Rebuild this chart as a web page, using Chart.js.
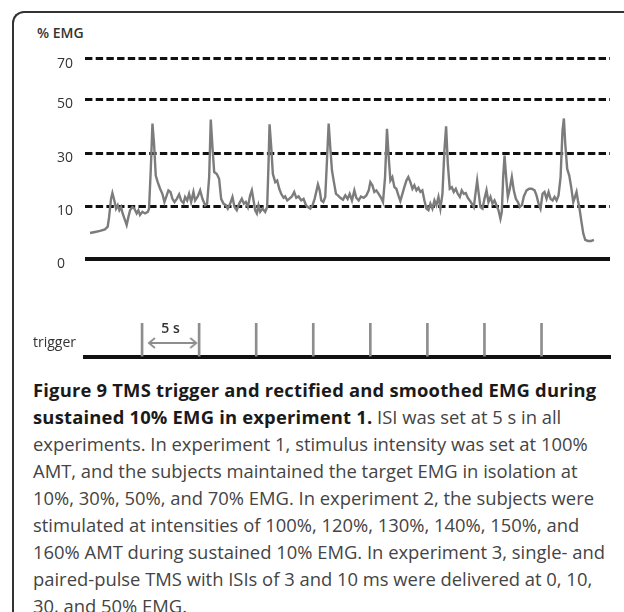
<!DOCTYPE html>
<html>
<head>
<meta charset="utf-8">
<script src="https://cdn.jsdelivr.net/npm/chart.js@4.4.1/dist/chart.umd.min.js"></script>
<style>
  body { margin: 0; background: #fff; width: 624px; height: 612px; overflow: hidden; position: relative; font-family: 'Open Sans', sans-serif; }
  .frame { position: absolute; left: 12px; top: 11px; width: 650px; height: 650px; border-top: 2px solid #333; border-left: 2px solid #333; border-top-left-radius: 12px; }
  #emgChart { position: absolute; left: 0; top: 0; }
  #trigChart { position: absolute; left: 0; top: 270px; }
  .ylabel { position: absolute; left: 37px; top: 23px; font: 600 14px 'Open Sans'; color: #333; }
  .caption { position: absolute; left: 33px; top: 376px; font-size: 18.4px; line-height: 27px; color: #444; white-space: nowrap; }
  .caption b { color: #1a1a1a; letter-spacing: 0.2px; }
</style>
</head>
<body>
<div class="frame"></div>
<div class="ylabel">% EMG</div>
<canvas id="emgChart" width="624" height="270"></canvas>
<canvas id="trigChart" width="624" height="95"></canvas>
<div class="caption">
  <b>Figure 9 TMS trigger and rectified and smoothed EMG during</b><br>
  <b>sustained 10% EMG in experiment 1.</b> ISI was set at 5 s in all<br>
  experiments. In experiment 1, stimulus intensity was set at 100%<br>
  AMT, and the subjects maintained the target EMG in isolation at<br>
  10%, 30%, 50%, and 70% EMG. In experiment 2, the subjects were<br>
  stimulated at intensities of 100%, 120%, 130%, 140%, 150%, and<br>
  160% AMT during sustained 10% EMG. In experiment 3, single- and<br>
  paired-pulse TMS with ISIs of 3 and 10 ms were delivered at 0, 10,<br>
  30, and 50% EMG.
</div>
<script>
// target EMG levels (dashed lines) and the 0 baseline
const levelTicks = [0, 10, 30, 50, 70];

// TMS trigger times (s), one every 5 s
const triggerTimes = [5, 10, 15, 20, 25, 30, 35, 40];
const intervalText = '5 s';
const triggerLabel = 'trigger';

// rectified and smoothed EMG: time (s) and %EMG
const emgTime = [
  0.44, 0.88, 1.32, 1.75, 1.99, 2.11, 2.28, 2.40, 2.57, 2.72, 2.87, 3.01, 3.16, 3.30, 3.51, 3.65, 3.80, 3.95,
  4.15, 4.33, 4.53, 4.68, 4.82, 5.03, 5.26, 5.50, 5.61, 5.76, 5.91, 6.05, 6.20, 6.37, 6.58, 6.78, 6.96, 7.16,
  7.31, 7.49, 7.66, 7.84, 8.04, 8.25, 8.42, 8.63, 8.77, 8.95, 9.12, 9.30, 9.50, 9.65, 9.88, 10.09, 10.29, 10.53,
  10.70, 10.88, 11.02, 11.17, 11.32, 11.55, 11.75, 11.93, 12.13, 12.34, 12.51, 12.72, 12.92, 13.10, 13.30, 13.51,
  13.74, 13.92, 14.09, 14.27, 14.47, 14.62, 14.77, 14.91, 15.06, 15.20, 15.35, 15.56, 15.79, 15.96, 16.08, 16.17,
  16.32, 16.46, 16.67, 16.84, 17.02, 17.19, 17.40, 17.54, 17.72, 17.89, 18.13, 18.33, 18.51, 18.71, 18.95, 19.15,
  19.36, 19.53, 19.74, 19.94, 20.12, 20.29, 20.41, 20.56, 20.70, 20.88, 21.05, 21.20, 21.35, 21.49, 21.64, 21.81,
  21.99, 22.16, 22.37, 22.60, 22.81, 23.01, 23.19, 23.39, 23.60, 23.77, 23.98, 24.18, 24.42, 24.65, 24.86, 25.00,
  25.18, 25.35, 25.53, 25.73, 25.94, 26.11, 26.29, 26.46, 26.61, 26.76, 26.93, 27.11, 27.28, 27.46, 27.63, 27.81,
  27.98, 28.16, 28.33, 28.51, 28.69, 28.86, 29.04, 29.21, 29.39, 29.56, 29.74, 29.91, 30.09, 30.26, 30.44, 30.62,
  30.79, 30.97, 31.14, 31.32, 31.49, 31.64, 31.79, 31.96, 32.14, 32.31, 32.49, 32.66, 32.84, 33.01, 33.19, 33.36,
  33.54, 33.71, 33.89, 34.07, 34.21, 34.36, 34.50, 34.65, 34.83, 35.00, 35.18, 35.35, 35.53, 35.70, 35.88, 36.05,
  36.23, 36.40, 36.52, 36.64, 36.76, 36.90, 37.05, 37.22, 37.40, 37.57, 37.75, 37.93, 38.10, 38.28, 38.45, 38.69,
  38.92, 39.15, 39.39, 39.56, 39.74, 39.91, 40.09, 40.26, 40.44, 40.62, 40.79, 40.97, 41.14, 41.32, 41.49, 41.67,
  41.84, 41.96, 42.08, 42.25, 42.43, 42.60, 42.78, 42.93, 43.07, 43.19, 43.31, 43.48, 43.66, 43.83, 44.07, 44.36,
  44.59
];
const emgValue = [
  4.9, 5.1, 5.3, 5.6, 6.1, 7.9, 12.7, 14.9, 12.1, 9.5, 10.3, 9.2, 9.8, 8.6, 7.3, 6.4, 7.9, 9.2,
  9.8, 9.5, 8.6, 9.2, 8.3, 8.9, 8.6, 8.9, 9.5, 23.4, 40.9, 33.4, 21.5, 19.0, 16.5, 14.6, 11.5, 14.0,
  15.9, 15.3, 12.7, 11.5, 12.7, 14.4, 12.1, 11.1, 13.4, 12.1, 14.6, 11.5, 15.3, 12.1, 13.6, 15.9, 12.7, 10.3,
  10.9, 20.9, 42.4, 32.1, 22.8, 22.1, 20.3, 12.7, 10.9, 10.3, 9.5, 10.9, 13.4, 9.8, 9.2, 10.9,
  12.7, 10.9, 11.5, 9.8, 14.0, 15.9, 12.1, 9.2, 8.6, 10.3, 8.9, 9.5, 8.9, 9.8, 25.9, 40.6,
  32.1, 22.1, 19.0, 19.6, 16.5, 14.6, 13.1, 13.6, 12.1, 12.7, 13.6, 15.3, 13.1, 13.6, 12.1, 12.7,
  10.3, 9.8, 9.5, 10.3, 12.7, 15.9, 18.1, 15.9, 12.1, 11.5, 13.4, 27.1, 40.9, 32.1, 23.4, 19.0,
  14.6, 14.0, 13.1, 12.4, 14.0, 12.7, 14.6, 12.1, 15.9, 13.1, 12.1, 13.6, 13.1, 14.0, 15.9, 19.0,
  17.8, 15.3, 15.9, 14.6, 13.1, 11.5, 20.9, 39.0, 28.4, 19.6, 20.9, 17.1, 16.5, 14.0, 11.9, 14.6,
  17.1, 19.6, 20.9, 19.0, 16.5, 17.8, 15.9, 16.9, 15.3, 15.9, 12.1, 9.5, 9.2, 10.9, 9.5, 12.1,
  10.3, 13.4, 9.5, 14.6, 30.9, 39.9, 25.9, 16.5, 17.1, 15.3, 16.5, 14.6, 13.4, 15.9, 14.6, 14.9,
  13.1, 12.1, 10.9, 9.8, 14.6, 19.6, 14.6, 9.8, 9.5, 12.7, 15.9, 11.5, 13.4, 10.9, 12.1, 10.3,
  9.2, 7.6, 8.9, 20.9, 29.0, 20.9, 13.4, 16.5, 20.9, 15.9, 12.7, 11.5, 9.8, 10.3, 13.6, 15.9,
  16.5, 16.5, 15.9, 14.0, 10.9, 9.5, 14.6, 15.3, 12.7, 15.3, 12.7, 12.1, 13.4, 12.1, 14.0, 20.9,
  38.4, 42.8, 33.4, 24.0, 21.5, 17.1, 11.5, 13.4, 15.3, 12.1, 9.8, 7.3, 4.8, 3.6, 3.4, 3.4,
  3.6
];

// the levels are not evenly spaced on the figure's axis: [value, relative height]
const levelBreaks = [[0, 0], [10, 53], [30, 106], [50, 160], [70, 200], [75, 208]];

class LevelScale extends Chart.LinearScale {
    levelToDecimal(v) {
        const top = levelBreaks[levelBreaks.length - 1][1];
        for (let i = 1; i < levelBreaks.length; i++) {
            if (v <= levelBreaks[i][0] || i === levelBreaks.length - 1) {
                const [v0, h0] = levelBreaks[i - 1];
                const [v1, h1] = levelBreaks[i];
                return (h0 + (v - v0) / (v1 - v0) * (h1 - h0)) / top;
            }
        }
        return 0;
    }
    getPixelForValue(value) {
        if (value === null || value === undefined || isNaN(value)) return NaN;
        return this.getPixelForDecimal(this.levelToDecimal(value));
    }
    getValueForPixel(pixel) {
        const top = levelBreaks[levelBreaks.length - 1][1];
        const h = this.getDecimalForPixel(pixel) * top;
        for (let i = 1; i < levelBreaks.length; i++) {
            if (h <= levelBreaks[i][1] || i === levelBreaks.length - 1) {
                const [v0, h0] = levelBreaks[i - 1];
                const [v1, h1] = levelBreaks[i];
                return v0 + (h - h0) / (h1 - h0) * (v1 - v0);
            }
        }
        return 0;
    }
}
LevelScale.id = 'level';
LevelScale.defaults = {};
Chart.register(LevelScale);

const traceGray = '#7c7c7c';
const triggerGray = '#8e8e8e';

// EMG trace with the target levels
new Chart(document.getElementById('emgChart'), {
    type: 'line',
    data: {
        datasets: [{
            data: emgTime.map((t, i) => ({ x: t, y: emgValue[i] })),
            borderColor: traceGray,
            borderWidth: 2.4,
            pointRadius: 0,
            tension: 0
        }]
    },
    options: {
        responsive: false,
        animation: false,
        events: [],
        layout: { padding: { left: 57, right: 14, top: 51, bottom: 11 } },
        plugins: { legend: { display: false }, tooltip: { enabled: false } },
        scales: {
            x: { type: 'linear', min: 0, max: 46, display: false },
            y: {
                type: 'level',
                min: 0,
                max: 75,
                afterBuildTicks: axis => { axis.ticks = levelTicks.map(v => ({ value: v })); },
                afterFit: axis => { axis.width = 28; },
                grid: {
                    drawTicks: false,
                    color: '#111',
                    lineWidth: c => (c.tick && c.tick.value === 0 ? 4 : 3)
                },
                border: {
                    display: false,
                    dash: c => (c.tick && c.tick.value === 0 ? [] : [7.4, 3.3])
                },
                ticks: {
                    crossAlign: 'far',
                    labelOffset: 5,
                    padding: 0,
                    color: '#333',
                    font: { family: 'Open Sans', size: 14 }
                }
            }
        }
    }
});

// open arrow heads for the 5 s interval
function chevron(dir) {
    const c = document.createElement('canvas');
    c.width = 14;
    c.height = 12;
    const g = c.getContext('2d');
    g.strokeStyle = triggerGray;
    g.lineWidth = 1.8;
    g.beginPath();
    if (dir > 0) { g.moveTo(1, 1); g.lineTo(7, 6); g.lineTo(1, 11); }
    else { g.moveTo(13, 1); g.lineTo(7, 6); g.lineTo(13, 11); }
    g.stroke();
    return c;
}

const intervalLabelPlugin = {
    id: 'intervalLabel',
    afterDatasetsDraw(chart) {
        const { ctx, scales: { x, y } } = chart;
        ctx.save();
        ctx.font = "600 14px 'Open Sans'";
        ctx.fillStyle = '#333';
        ctx.textAlign = 'center';
        ctx.textBaseline = 'middle';
        ctx.fillText(intervalText, x.getPixelForValue((triggerTimes[0] + triggerTimes[1]) / 2), y.getPixelForValue(0.84));
        ctx.restore();
    }
};

// trigger channel
new Chart(document.getElementById('trigChart'), {
    type: 'bar',
    data: {
        datasets: [{
            type: 'bar',
            data: triggerTimes.map(t => ({ x: t, y: 1 })),
            backgroundColor: triggerGray,
            barThickness: 2,
            borderWidth: 0
        }, {
            type: 'line',
            data: [{ x: triggerTimes[0] + 0.6, y: 0.41 }, { x: triggerTimes[1] - 0.25, y: 0.41 }],
            borderColor: triggerGray,
            borderWidth: 2,
            pointRadius: 5,
            pointStyle: [chevron(-1), chevron(1)]
        }]
    },
    options: {
        responsive: false,
        animation: false,
        events: [],
        layout: { padding: { left: 33, right: 14, top: 0, bottom: 8 } },
        plugins: { legend: { display: false }, tooltip: { enabled: false } },
        scales: {
            x: {
                type: 'linear',
                min: 0,
                max: 46,
                offset: false,
                ticks: { display: false },
                grid: { display: false, drawTicks: false, offset: false },
                border: { display: true, color: '#111', width: 4 }
            },
            y: {
                min: 0,
                max: 2.35,
                afterBuildTicks: axis => { axis.ticks = [{ value: 0.4 }]; },
                afterFit: axis => { axis.width = 52; },
                grid: { display: false, drawTicks: false },
                border: { display: false },
                ticks: {
                    callback: () => triggerLabel,
                    crossAlign: 'far',
                    padding: 0,
                    color: '#333',
                    font: { family: 'Open Sans', size: 14 }
                }
            }
        }
    },
    plugins: [intervalLabelPlugin]
});
</script>
</body>
</html>
